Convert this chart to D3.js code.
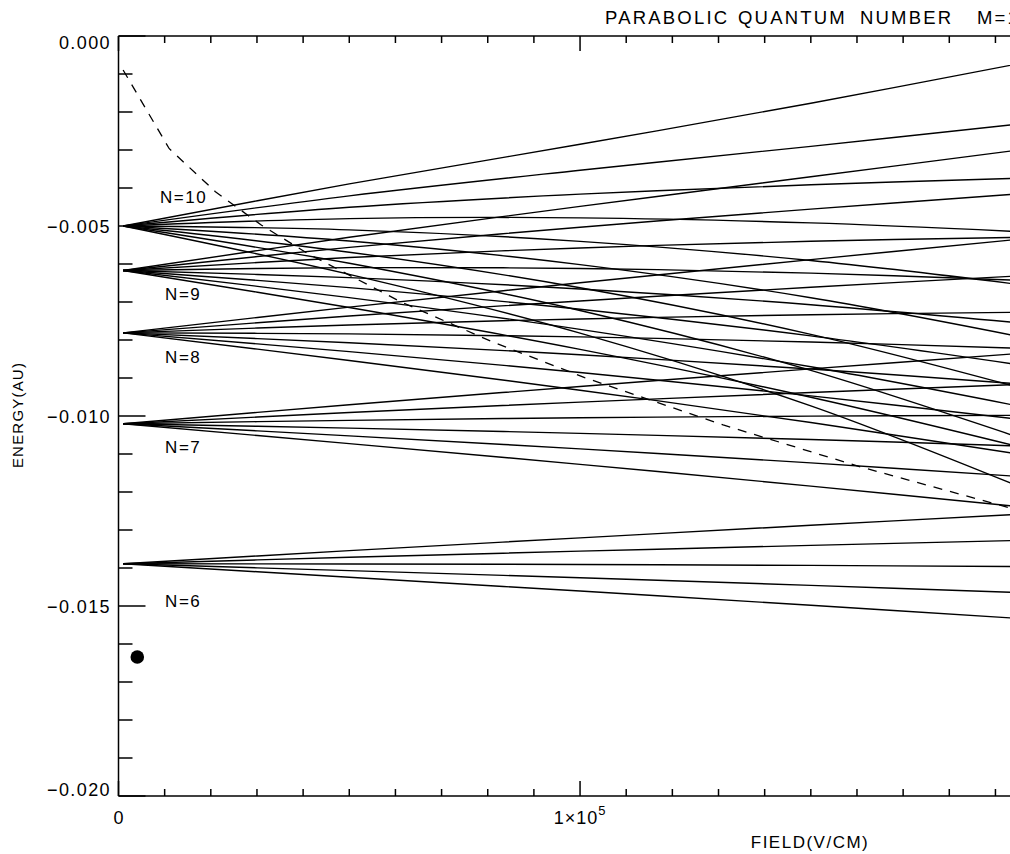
<!DOCTYPE html>
<html><head><meta charset="utf-8">
<script src="https://cdn.jsdelivr.net/npm/d3@7"></script>
<style>
body{margin:0;background:#fff;}
svg{display:block;}
text{font-family:"Liberation Sans",Arial,Helvetica,sans-serif;fill:#000;}
</style>
</head><body>
<svg id="c" width="1010" height="854"></svg>
<script>
// ---- data (field in V/cm, energy in atomic units) ----
const fieldSamples = [1000, 50000, 100000, 150000, 195000];

const starkN6 = [
  [-0.013889, -0.013543, -0.013206, -0.012876, -0.012586],
  [-0.013889, -0.013719, -0.013557, -0.013405, -0.013275],
  [-0.013889, -0.013894, -0.013908, -0.013932, -0.013961],
  [-0.013889, -0.014069, -0.014258, -0.014457, -0.014645],
  [-0.013889, -0.014243, -0.014607, -0.014981, -0.015326]
];
const starkN7 = [
  [-0.010204, -0.009704, -0.009223, -0.008760, -0.008355],
  [-0.010204, -0.009909, -0.009636, -0.009383, -0.009171],
  [-0.010204, -0.010114, -0.010047, -0.010003, -0.009982],
  [-0.010204, -0.010318, -0.010457, -0.010620, -0.010789],
  [-0.010204, -0.010522, -0.010865, -0.011234, -0.011590],
  [-0.010204, -0.010726, -0.011272, -0.011845, -0.012385]
];
const starkN8 = [
  [-0.0078125, -0.0071348, -0.0064952, -0.0058844, -0.0053510],
  [-0.0078125, -0.0073701, -0.0069720, -0.0066116, -0.0063142],
  [-0.0078125, -0.0076049, -0.0074465, -0.0073342, -0.0072696],
  [-0.0078125, -0.0078391, -0.0079188, -0.0080517, -0.0082167],
  [-0.0078125, -0.0080727, -0.0083887, -0.0087640, -0.0091550],
  [-0.0078125, -0.0083057, -0.0088564, -0.0094708, -0.0100838],
  [-0.0078125, -0.0085382, -0.0093214, -0.0101720, -0.0110030]
];
const starkN9 = [
  [-0.0061728, -0.0052966, -0.0044844, -0.0037037, -0.0030013],
  [-0.0061728, -0.0055635, -0.0050325, -0.0045565, -0.0041560],
  [-0.0061728, -0.0058293, -0.0055773, -0.0054023, -0.0052993],
  [-0.0061728, -0.0060944, -0.0061186, -0.0062406, -0.0064302],
  [-0.0061728, -0.0063586, -0.0066562, -0.0070708, -0.0075476],
  [-0.0061728, -0.0066217, -0.0071901, -0.0078923, -0.0086503],
  [-0.0061728, -0.0068839, -0.0077201, -0.0087047, -0.0097370],
  [-0.0061728, -0.0071452, -0.0082458, -0.0095073, -0.0108067]
];
const starkN10 = [
  [-0.0050, -0.0038900, -0.0028500, -0.0017700, -0.0007300],
  [-0.0050, -0.0042076, -0.0035328, -0.0029036, -0.0023171],
  [-0.0050, -0.0045068, -0.0041616, -0.0039164, -0.0037412],
  [-0.0050, -0.0048046, -0.0047855, -0.0049187, -0.0051486],
  [-0.0050, -0.0051010, -0.0054042, -0.0059094, -0.0065369],
  [-0.0050, -0.0053960, -0.0060171, -0.0068873, -0.0079037],
  [-0.0050, -0.0056896, -0.0066240, -0.0078514, -0.0092464],
  [-0.0050, -0.0059818, -0.0072246, -0.0088004, -0.0105625],
  [-0.0050, -0.0062723, -0.0078185, -0.0097334, -0.0118499]
];

const thresholdField  = [1000, 11000, 21000, 31000, 41000, 61000, 81000, 101000, 131000, 161000, 201000];
const thresholdEnergy = [-0.000894, -0.002966, -0.004098, -0.004979, -0.005726, -0.006985, -0.008049, -0.008988, -0.010236, -0.011348, -0.012679];

const markerField = [4070];
const markerEnergy = [-0.016342];

const manifoldNames  = ["N=10", "N=9", "N=8", "N=7", "N=6"];
const manifoldLabelField  = [9000, 10100, 10100, 10100, 10100];
const manifoldLabelEnergy = [-0.004395, -0.006947, -0.008605, -0.010974, -0.015026];

const yMajorTicks = [0, -0.005, -0.010, -0.015, -0.020];
const yMajorLabels = ["0.000", "\u22120.005", "\u22120.010", "\u22120.015", "\u22120.020"];
const xMajorTicks = [0, 100000, 200000];

const titleWords = ["PARABOLIC", "QUANTUM", "NUMBER", "M=1"];

// ---- scales ----
const x = d3.scaleLinear().domain([0, 200000]).range([118.5, 1041.6]);
const y = d3.scaleLinear().domain([0, -0.020]).range([36, 796]);

const svg = d3.select("#c");

svg.append("defs").append("clipPath").attr("id","plot")
  .append("rect").attr("x", x(0)).attr("y", y(0)).attr("width", x(200000)-x(0)).attr("height", y(-0.02)-y(0));

const plot = svg.append("g").attr("clip-path","url(#plot)");

const line = d3.line()
  .x(d => x(d[0])).y(d => y(d[1]))
  .curve(d3.curveCatmullRom.alpha(0.5));

const allLines = [].concat(starkN6, starkN7, starkN8, starkN9, starkN10)
  .map(es => es.map((e, i) => [fieldSamples[i], e]));

plot.selectAll("path.stark").data(allLines).join("path")
  .attr("class","stark")
  .attr("d", line)
  .attr("fill","none").attr("stroke","#000").attr("stroke-width",1.4);

const thr = thresholdField.map((f, i) => [f, thresholdEnergy[i]]);
plot.append("path")
  .attr("d", d3.line().x(d => x(d[0])).y(d => y(d[1]))(thr))
  .attr("fill","none").attr("stroke","#000").attr("stroke-width",1.3)
  .attr("stroke-dasharray","9,8");

plot.selectAll("circle.mk").data(markerField.map((f,i)=>[f, markerEnergy[i]])).join("circle")
  .attr("class","mk")
  .attr("cx", d => x(d[0])).attr("cy", d => y(d[1])).attr("r", 6.8).attr("fill","#000");

// ---- axes ----
const ax = svg.append("g").attr("stroke","#000").attr("stroke-width",1.5).attr("fill","none");
ax.append("line").attr("x1", x(0)).attr("x2", x(0)).attr("y1", y(0)).attr("y2", y(-0.02));
ax.append("line").attr("x1", x(0)).attr("x2", x(200000)).attr("y1", y(0)).attr("y2", y(0));
ax.append("line").attr("x1", x(0)).attr("x2", x(200000)).attr("y1", y(-0.02)).attr("y2", y(-0.02));

const yMinor = d3.range(0, 21).map(i => -i * 0.001);
ax.selectAll("line.ymin").data(yMinor).join("line").attr("class","ymin")
  .attr("x1", x(0)).attr("x2", d => x(0) + (yMajorTicks.some(t => Math.abs(t - d) < 1e-9) ? 27 : 14))
  .attr("y1", d => y(d)).attr("y2", d => y(d));

const xMinor = d3.range(0, 21).map(i => i * 10000);
ax.selectAll("line.xminb").data(xMinor).join("line").attr("class","xminb")
  .attr("x1", d => x(d)).attr("x2", d => x(d))
  .attr("y1", y(-0.02)).attr("y2", d => y(-0.02) - (xMajorTicks.includes(d) ? 15 : 7));
ax.selectAll("line.xmint").data(xMinor).join("line").attr("class","xmint")
  .attr("x1", d => x(d)).attr("x2", d => x(d))
  .attr("y1", y(0)).attr("y2", d => y(0) + (xMajorTicks.includes(d) ? 15 : 7));

// y tick labels
const yLabOffset = [13, 7, 7, 7, 0];
svg.selectAll("text.yl").data(yMajorTicks).join("text").attr("class","yl")
  .attr("x", 111).attr("y", (d,i) => y(d) + yLabOffset[i])
  .attr("text-anchor","end").attr("font-size", 18).attr("letter-spacing", 1.4)
  .text((d,i) => yMajorLabels[i]);

// x tick labels
svg.append("text").attr("x", x(0)).attr("y", 824).attr("text-anchor","middle")
  .attr("font-size", 18).text("0");
const xl = svg.append("text").attr("x", x(100000)).attr("y", 824).attr("text-anchor","middle")
  .attr("font-size", 18).attr("letter-spacing", 1);
xl.append("tspan").text("1\u00d710");
xl.append("tspan").attr("dy", -9).attr("font-size", 13).text("5");

// axis titles
svg.append("text").attr("x", 810).attr("y", 848).attr("text-anchor","middle")
  .attr("font-size", 17).attr("letter-spacing", 1.5).text("FIELD(V/CM)");
svg.append("text").attr("transform","translate(23,415) rotate(-90)").attr("text-anchor","middle")
  .attr("font-size", 15).attr("letter-spacing", 1.2).text("ENERGY(AU)");

// manifold labels
svg.selectAll("text.nl").data(manifoldNames).join("text").attr("class","nl")
  .attr("x", (d,i) => x(manifoldLabelField[i])).attr("y", (d,i) => y(manifoldLabelEnergy[i]))
  .attr("font-size", 17).attr("letter-spacing", 1.5).text(d => d);

// title
const titleX = [605, 738, 860, 977];
const tt = svg.append("text").attr("y", 24).attr("font-size", 18.5).attr("letter-spacing", 2.2);
tt.selectAll("tspan").data(titleWords).join("tspan")
  .attr("x", (d,i) => titleX[i]).text(d => d);
</script>
</body></html>
